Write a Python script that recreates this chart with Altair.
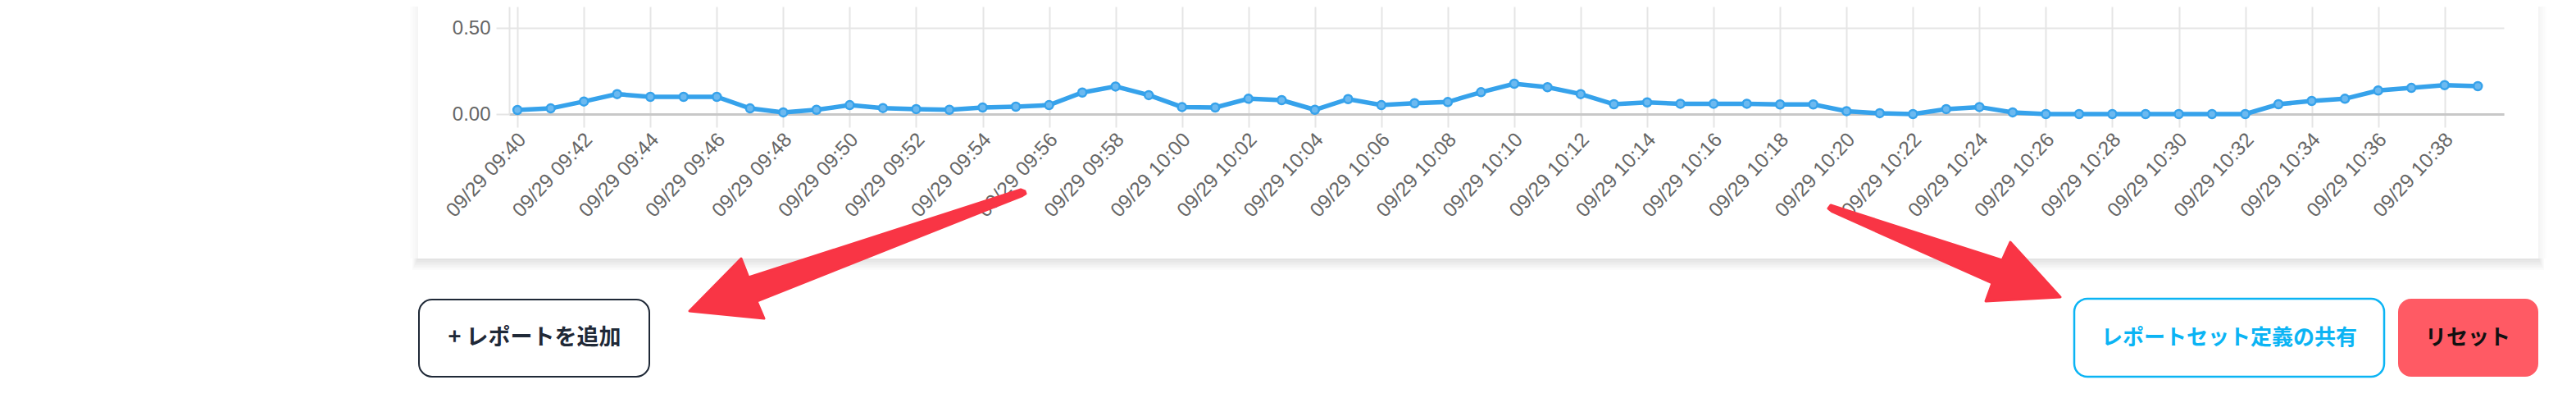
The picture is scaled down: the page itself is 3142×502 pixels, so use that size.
import altair as alt
import pandas as pd

# ---- data ----
times = [
    "09:40", "09:41", "09:42", "09:43", "09:44", "09:45", "09:46", "09:47", "09:48", "09:49",
    "09:50", "09:51", "09:52", "09:53", "09:54", "09:55", "09:56", "09:57", "09:58", "09:59",
    "10:00", "10:01", "10:02", "10:03", "10:04", "10:05", "10:06", "10:07", "10:08", "10:09",
    "10:10", "10:11", "10:12", "10:13", "10:14", "10:15", "10:16", "10:17", "10:18", "10:19",
    "10:20", "10:21", "10:22", "10:23", "10:24", "10:25", "10:26", "10:27", "10:28", "10:29",
    "10:30", "10:31", "10:32", "10:33", "10:34", "10:35", "10:36", "10:37", "10:38", "10:39",
]
values = [
    0.024, 0.033, 0.073, 0.116, 0.100, 0.100, 0.100, 0.033, 0.010, 0.025,
    0.052, 0.035, 0.029, 0.025, 0.038, 0.043, 0.052, 0.125, 0.160, 0.110,
    0.041, 0.038, 0.089, 0.081, 0.025, 0.087, 0.052, 0.063, 0.070, 0.127,
    0.176, 0.156, 0.116, 0.057, 0.068, 0.060, 0.060, 0.060, 0.056, 0.056,
    0.017, 0.005, 0.000, 0.029, 0.041, 0.010, 0.000, 0.000, 0.000, 0.000,
    0.000, 0.000, 0.000, 0.057, 0.076, 0.089, 0.137, 0.152, 0.168, 0.162,
]
day = "2023-09-29"
tick_times = times[::2]
y_ticks = [0, 0.5]

button_labels = ["+ レポートを追加", "レポートセット定義の共有", "リセット"]

df = pd.DataFrame({"time": [f"{day}T{t}:00" for t in times], "value": values})


def dt(hm, s=0):
    h, m = map(int, hm.split(":"))
    return alt.DateTime(year=2023, month=9, date=29, hours=h, minutes=m, seconds=s)


# ---- layout (page pixels) ----
OX, OY = 621, 8          # plot origin on the page
W, H = 2433, 131         # plot area
LINE = "#36a2eb"
GRID = "#e5e5e5"
LABEL = "#666666"

x_enc = alt.X(
    "time:T",
    scale=alt.Scale(domain=[dt("09:39", 45), dt("10:39", 47)]),
    axis=alt.Axis(
        values=[dt(t) for t in tick_times], format="%m/%d %H:%M", title=None,
        labelAngle=313, labelAlign="right", labelBaseline="middle",
        labelFontSize=24.5, labelColor=LABEL, labelFont="Liberation Sans",
        labelPadding=11, labelOffset=6, labelOverlap=False, labelFlush=False,
        grid=True, gridColor=GRID, gridWidth=2,
        ticks=True, tickSize=16, tickColor=GRID, tickWidth=2,
        domain=True, domainColor="#c8c8c8", domainWidth=3,
    ),
)
y_enc = alt.Y(
    "value:Q",
    scale=alt.Scale(domain=[0, H / 210.0], nice=False, zero=True),
    axis=alt.Axis(
        values=y_ticks, format=".2f", title=None,
        labelFontSize=24, labelColor=LABEL, labelFont="Liberation Sans", labelPadding=7,
        grid=True, gridColor=GRID, gridWidth=2,
        ticks=True, tickSize=16, tickColor=GRID, tickWidth=2,
        domain=True, domainColor=GRID, domainWidth=2,
    ),
)

base = alt.Chart(df).encode(x=x_enc, y=y_enc)
line = base.mark_line(color=LINE, strokeWidth=5.5)
points = base.mark_point(filled=True, fill="#6cb9f0", stroke=LINE, strokeWidth=2.5, size=100, opacity=1)

one = pd.DataFrame({"k": [0]})


def rect(x0, y0, x1, y1, **kw):
    return alt.Chart(one).mark_rect(**kw).encode(
        x=alt.value(x0 - OX), x2=alt.value(x1 - OX), y=alt.value(y0 - OY), y2=alt.value(y1 - OY)
    )


def label(x, y, text, **kw):
    return alt.Chart(one).mark_text(text=text, align="center", baseline="middle", **kw).encode(
        x=alt.value(x - OX), y=alt.value(y - OY)
    )


def arrow(pts, color):
    ax, ay = pts[0]
    path = "M" + " L".join(f"{x - ax:.1f},{y - ay:.1f}" for x, y in pts) + " Z"
    return alt.Chart(one).mark_point(
        shape=path, size=4, filled=True, fill=color, stroke=color, strokeWidth=3,
        strokeJoin="round", opacity=1,
    ).encode(x=alt.value(ax - OX), y=alt.value(ay - OY))


# card shadow (card: x 510..3096, bottom 315)
shadow = []
for k in range(1, 8):
    shadow.append(rect(510 - k, 315, 3096 + k, 315 + 2 * k, color="black", opacity=0.016))
for k in range(1, 6):
    shadow.append(rect(510 - 2 * k, 8, 510, 315, color="black", opacity=0.006))
    shadow.append(rect(3096, 8, 3096 + 2 * k, 315, color="black", opacity=0.006))

RED = "#f93545"
left_arrow = [(841, 379), (904, 315), (913, 338), (1245, 231), (1250, 233), (1251, 236),
              (1247, 238.5), (923, 367), (932, 388)]
right_arrow = [(2513, 362), (2422, 367), (2430, 345), (2235, 258), (2230, 254), (2233, 250),
               (2442, 317), (2452, 295)]

CJK = "Noto Sans CJK JP"
buttons = [
    rect(511, 365, 792, 459, fill="white", stroke="#1f2937", strokeWidth=2, cornerRadius=16),
    label(652, 412, button_labels[0], font=CJK, fontSize=27, fontWeight="bold", color="#1f2937"),
    rect(2530, 364, 2908, 459, fill="white", stroke="#0bb4f4", strokeWidth=2.5, cornerRadius=16),
    label(2719, 412, button_labels[1], font=CJK, fontSize=26, fontWeight="bold", color="#0bb4f4"),
    rect(2925, 364, 3096, 459, fill="#ff5a64", cornerRadius=16),
    label(3010, 412, button_labels[2], font=CJK, fontSize=26, fontWeight="bold", color="#111111"),
]

chart = alt.layer(
    *shadow, line, points, *buttons, arrow(left_arrow, RED), arrow(right_arrow, RED)
).properties(
    width=W, height=H,
    padding={"left": OX - 8, "top": 0, "right": 3126 - (OX - 8) - W, "bottom": 486 - H},
    autosize=alt.AutoSizeParams(type="none"),
).configure(background="white").configure_view(strokeWidth=0)

chart.save("out.html", embed_options={"renderer": "svg", "actions": False})
